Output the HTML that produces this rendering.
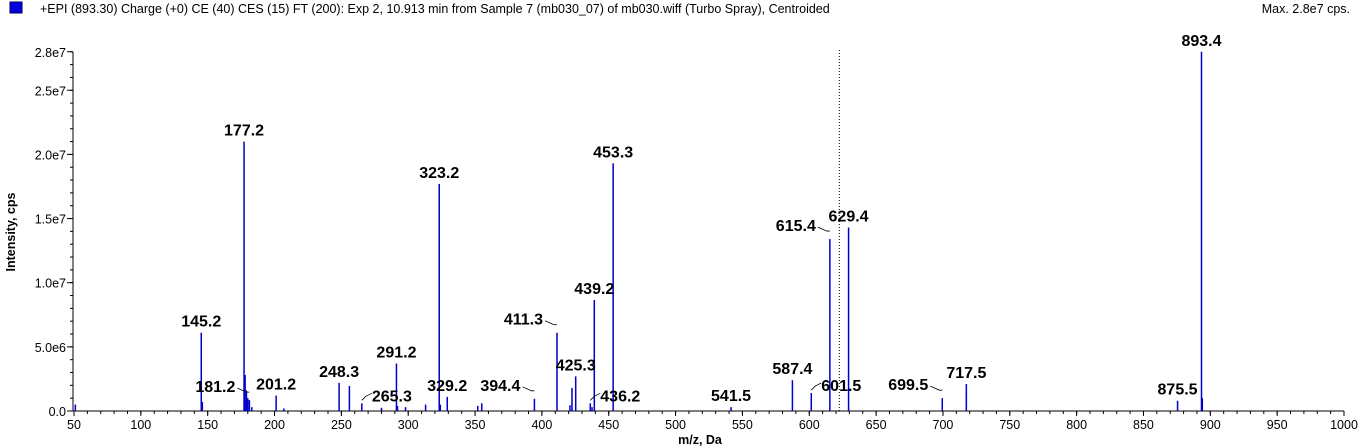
<!DOCTYPE html>
<html><head><meta charset="utf-8"><style>
body{margin:0;background:#fff;width:1360px;height:448px;overflow:hidden;font-family:"Liberation Sans",Arial,sans-serif}
svg{position:absolute;left:0;top:0}
</style></head><body>
<svg id="c" width="1360" height="448" font-family="Liberation Sans, Arial, sans-serif">
<rect x="10" y="2" width="12" height="11" fill="#0000e0" stroke="#000060"/>
<text x="40" y="13" font-size="12.5" fill="#000">+EPI (893.30) Charge (+0) CE (40) CES (15) FT (200): Exp 2, 10.913 min from Sample 7 (mb030_07) of mb030.wiff (Turbo Spray), Centroided</text>
<text x="1350" y="13" font-size="12.5" text-anchor="end">Max. 2.8e7 cps.</text>
<text x="700" y="444" font-size="12.5" font-weight="bold" text-anchor="middle">m/z, Da</text>
<text transform="translate(15,232) rotate(-90)" font-size="12.5" font-weight="bold" text-anchor="middle">Intensity, cps</text>
<g id="g"></g>
</svg>
<script>
const mz=[51,145.2,146,177.2,178,179,180,181.2,183,201.2,207,248.3,256,265.3,280,291.2,292,298,313,323.2,324,329.2,352,355,394.4,411.3,421,422.5,425.3,436.2,437.5,439.2,453.3,541.5,587.4,601.5,615.4,629.4,699.5,717.5,875.5,893.4,894];
const inten=[5e5,6.1e6,7e5,2.1e7,2.8e6,1.6e6,1.0e6,8.5e5,3e5,1.2e6,2e5,2.2e6,1.95e6,6e5,2.5e5,3.7e6,4e5,3e5,5e5,1.77e7,5e5,1.1e6,4e5,6e5,9.5e5,6.1e6,4.5e5,1.8e6,2.7e6,6e5,3e5,8.65e6,1.93e7,3e5,2.4e6,1.4e6,1.34e7,1.43e7,1.0e6,2.1e6,8e5,2.8e7,1e6];
const labelMz=[145.2,177.2,181.2,201.2,248.3,265.3,291.2,323.2,329.2,394.4,411.3,425.3,436.2,439.2,453.3,541.5,587.4,601.5,615.4,629.4,699.5,717.5,875.5,893.4];
const labelText=["145.2","177.2","181.2","201.2","248.3","265.3","291.2","323.2","329.2","394.4","411.3","425.3","436.2","439.2","453.3","541.5","587.4","601.5","615.4","629.4","699.5","717.5","875.5","893.4"];
const leaderLeft=["181.2","394.4","411.3","615.4","699.5"];
const leaderRight=["265.3","436.2","601.5"];
const yTicks=[0,5e6,1e7,1.5e7,2e7,2.5e7,2.8e7];
const yTickLabels=["0.0","5.0e6","1.0e7","1.5e7","2.0e7","2.5e7","2.8e7"];
const xTicks=[50,100,150,200,250,300,350,400,450,500,550,600,650,700,750,800,850,900,950,1000];
const cursorMz=622.5;
const X=v=>74+(v-50)*1270/950;
const Y=v=>411-v/1e7*128.3;
const NS="http://www.w3.org/2000/svg";
const g=document.getElementById('g');
function mk(t,a){const e=document.createElementNS(NS,t);for(const k in a)e.setAttribute(k,a[k]);g.appendChild(e);return e;}
let e;
e=mk('line',{x1:73,y1:Y(2.8e7),x2:73,y2:411,stroke:'#000'});


e=mk('line',{x1:73,y1:411,x2:X(1000),y2:411,stroke:'#000'});


for(let v=0;v<=2.8e7;v+=1e6){mk('line',{x1:70,x2:73,y1:Y(v),y2:Y(v),stroke:'#000'});}
yTicks.forEach((v,i)=>{mk('line',{x1:67,x2:73,y1:Y(v),y2:Y(v),stroke:'#000'});
e=mk('text',{x:66,y:Y(v)+5,'font-size':12.5,'text-anchor':'end'});e.textContent=yTickLabels[i];

});
for(let v=50;v<=1000;v+=10){mk('line',{x1:X(v),x2:X(v),y1:411,y2:414,stroke:'#000'});}
xTicks.forEach(v=>{mk('line',{x1:X(v),x2:X(v),y1:411,y2:416,stroke:'#000'});
e=mk('text',{x:X(v),y:429,'font-size':12.5,'text-anchor':'middle'});e.textContent=String(v);

});
e=mk('line',{x1:X(cursorMz),x2:X(cursorMz),y1:50,y2:411,stroke:'#000','stroke-dasharray':'1,2'});


mz.forEach((m,i)=>{e=mk('rect',{x:X(m)-0.75,y:Y(inten[i]),width:1.5,height:411-Y(inten[i]),fill:'#0000c8'});

});
labelMz.forEach((m,i)=>{const v=inten[mz.indexOf(m)];const px=X(m),py=Y(v);
let tx=px,ty=py-6,anchor='middle';const t=labelText[i];
if(leaderLeft.includes(t)){tx=px-14;ty=py-8;anchor='end';
mk('polyline',{points:`${px-12},${py-12} ${px-3},${py-8} ${px},${py-8}`,fill:'none',stroke:'#000','stroke-width':0.8});}
else if(leaderRight.includes(t)){tx=px+10;ty=py-2;anchor='start';
mk('polyline',{points:`${px},${py-3} ${px+4},${py-7} ${px+10},${py-10}`,fill:'none',stroke:'#000','stroke-width':0.8});}
e=mk('text',{x:tx,y:ty,'font-size':16,'font-weight':'bold','text-anchor':anchor});e.textContent=t;

});
</script>
</body></html>
